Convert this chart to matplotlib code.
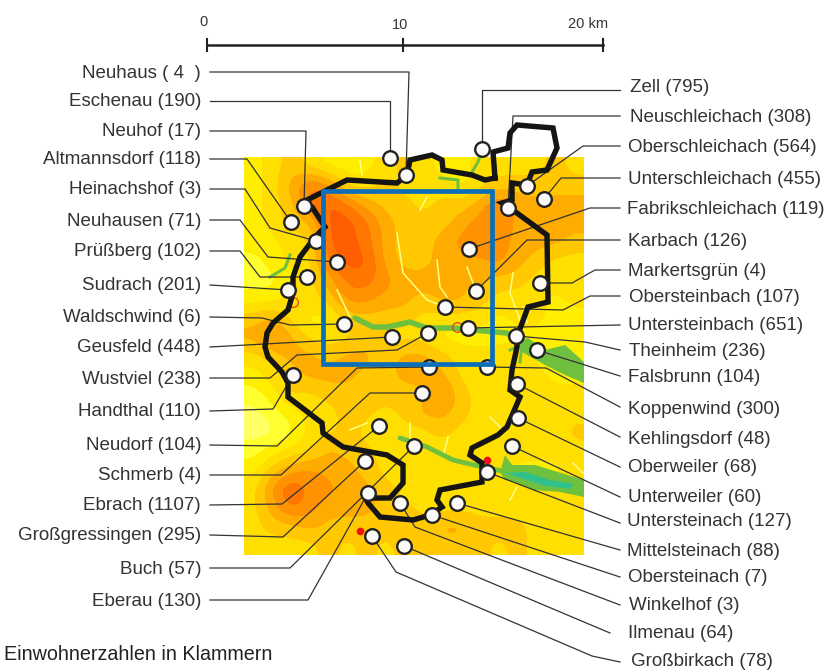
import numpy as np
import matplotlib
matplotlib.use("Agg")
import matplotlib.pyplot as plt
from matplotlib.colors import ListedColormap, BoundaryNorm

# map coordinates are image pixels of the source map
names_left = ["Neuhaus ( 4  )", "Eschenau (190)", "Neuhof (17)", "Altmannsdorf (118)", "Heinachshof (3)",
              "Neuhausen (71)", "Prüßberg (102)", "Sudrach (201)", "Waldschwind (6)", "Geusfeld (448)",
              "Wustviel (238)", "Handthal (110)", "Neudorf (104)", "Schmerb (4)", "Ebrach (1107)",
              "Großgressingen (295)", "Buch (57)", "Eberau (130)"]
label_y_left = [72, 101, 131, 159, 189, 220, 251, 285, 317, 347, 378, 411, 445, 475, 505, 535, 568, 600]
villages_left = [(406, 175), (390, 158), (304, 206), (291, 222), (316, 241), (337, 262), (307, 277), (288, 290),
                 (344, 324), (392, 337), (428, 333), (293, 375), (429, 367), (422, 393), (379, 426),
                 (365, 461), (414, 446), (368, 493)]
bends_left = [[(409, 72)], [(390, 101)], [(306, 131)], [(247, 159)], [(245, 189), (270, 228)],
              [(240, 220), (268, 257)], [(240, 251), (260, 277)], [],
              [(262, 318), (290, 325)], [], [(270, 378), (297, 355), (397, 350)],
              [(273, 409)], [(277, 446), (357, 368)], [(281, 475), (370, 393)], [(282, 504)],
              [(283, 537)], [(290, 568)], [(308, 600)]]

names_right = ["Zell (795)", "Neuschleichach (308)", "Oberschleichach (564)", "Unterschleichach (455)",
               "Fabrikschleichach (119)", "Karbach (126)", "Markertsgrün (4)", "Obersteinbach (107)",
               "Untersteinbach (651)", "Theinheim (236)", "Falsbrunn (104)", "Koppenwind (300)",
               "Kehlingsdorf (48)", "Oberweiler (68)", "Unterweiler (60)", "Untersteinach (127)",
               "Mittelsteinach (88)", "Obersteinach (7)", "Winkelhof (3)", "Ilmenau (64)", "Großbirkach (78)"]
label_x_right = [630, 630, 628, 628, 627, 628, 628, 629, 628, 629, 628, 628, 628, 628, 628, 627, 627, 628, 629, 628, 631]
label_y_right = [87, 116, 147, 178, 208, 240, 270, 297, 324, 350, 377, 408, 438, 467, 497, 521, 550, 577, 605, 633, 660]
leader_y_right = [90, 116, 146, 178, 208, 240, 270, 296, 325, 350, 376, 407, 437, 467, 497, 523, 550, 577, 605, 633, 662]
villages_right = [(482, 149), (508, 208), (527, 186), (544, 199), (469, 249), (476, 291), (540, 283), (445, 307),
                  (468, 328), (516, 336), (537, 350), (487, 367), (517, 384), (518, 418), (512, 446),
                  (487, 472), (457, 503), (432, 515), (400, 503), (404, 546), (372, 536)]
bends_right = [[(482, 90)], [(513, 116)], [(583, 146)], [(561, 178)], [(590, 208)], [(527, 240)],
               [(595, 270), (572, 283)], [(590, 296), (563, 310)], [], [(585, 342)], [], [(546, 368)],
               [], [], [], [], [], [], [(415, 527)], [], [(592, 656), (396, 572)]]
leader_end_right = [620, 620, 620, 620, 620, 620, 620, 620, 620, 620, 620, 620, 620, 620, 620, 620, 620, 620, 620, 610, 620]

boundary = [(495, 178), (493, 152), (508, 148), (510, 133), (517, 125), (553, 128), (557, 148), (547, 170), (532, 172),
            (527, 185), (512, 183), (512, 200), (502, 203), (510, 208), (547, 235), (548, 302), (528, 307), (517, 337),
            (517, 347), (512, 370), (510, 390), (520, 397), (507, 427), (498, 435), (472, 448), (470, 455), (482, 463),
            (482, 482), (440, 490), (437, 500), (442, 507), (430, 515), (413, 520), (380, 517), (368, 503), (365, 497),
            (373, 498), (390, 498), (403, 483), (403, 465), (387, 455), (343, 447), (323, 433), (322, 423), (288, 397),
            (288, 383), (282, 372), (268, 357), (265, 347), (267, 333), (273, 323), (288, 310), (293, 293), (293, 277),
            (300, 257), (315, 237), (325, 227), (312, 207), (303, 202), (347, 180), (397, 183), (407, 175), (410, 160),
            (432, 155), (442, 160), (443, 170), (472, 175), (485, 180), (495, 178)]

terrain_rows = ["234322234322333343",
                "235763343332344444",
                "234787544344575555",
                "234488754445675455",
                "223388754456765554",
                "123378854455565433",
                "112357765554544333",
                "223346655455433323",
                "453224444333323322",
                "565333433322222222",
                "345545545543334222",
                "234555445553333322",
                "124344444464333333",
                "012334434554333333",
                "001334323343334334",
                "123354432333233333",
                "245655433332332223",
                "368665543333333333",
                "357655544333333333",
                "344544444455444333",
                "333343434444434333"]
terrain_colors = ["#ffff66", "#ffff30", "#ffee00", "#ffdf00", "#ffc800", "#ffac00", "#ff9200", "#ff7600", "#ff5e00"]

upper_river = [(355, 318), (373, 327), (387, 327), (410, 322), (427, 328), (453, 328), (473, 330), (507, 333), (517, 340)]
lower_river = [(400, 438), (427, 447), (453, 460), (483, 467), (507, 472)]
upper_valley = [(518, 342), (528, 338), (545, 350), (565, 345), (584, 362), (584, 383), (565, 375), (545, 365), (522, 352)]
lower_valley = [(500, 472), (505, 455), (512, 465), (535, 465), (584, 480), (584, 497), (560, 492), (535, 490), (515, 482), (505, 480)]
lake = [(505, 473), (525, 472), (550, 480), (574, 484), (570, 489), (545, 486), (520, 478)]
side_valleys = [[(482, 150), (478, 162), (472, 172)], [(440, 178), (458, 180), (458, 190)],
                [(270, 277), (285, 268), (290, 255)], [(510, 350), (522, 345), (520, 362)]]
streams = [[(360, 160), (362, 175)], [(427, 197), (420, 210)], [(337, 290), (350, 317)],
           [(397, 233), (403, 273), (427, 300), (453, 310)], [(437, 260), (440, 287), (447, 297)],
           [(467, 267), (473, 283)], [(513, 273), (510, 293), (520, 320)], [(523, 307), (527, 323)],
           [(350, 430), (367, 423)], [(410, 423), (410, 443)], [(448, 437), (443, 457)],
           [(490, 417), (500, 427)], [(510, 500), (517, 487)], [(573, 463), (583, 473)]]
red_dots = [(360, 531), (487, 460)]
red_rings = [(457, 327), (293, 302)]
study_area = [(323, 191), (492, 191), (492, 364), (323, 364), (323, 191)]

scale_km = [0, 10, 20]
scale_x = [207, 403, 603]
scale_labels = ["0", "10", "20 km"]
scale_label_x = [203, 400, 588]
scale_label_y = [22, 25, 24]

plt.rcParams['font.family'] = ['Liberation Sans', 'DejaVu Sans']

fig = plt.figure(figsize=(8.27, 6.71), dpi=100)
ax = fig.add_axes([0, 0, 1, 1])

grid = np.array([[int(c) for c in row] for row in terrain_rows], dtype=float)
cmap = ListedColormap(terrain_colors)
norm = BoundaryNorm(np.arange(-0.5, 9.5), cmap.N)
ax.imshow(grid, extent=(244, 584, 555, 157), cmap=cmap, norm=norm, aspect="auto",
          interpolation="bicubic", interpolation_stage="data", zorder=1)
ax.set_xlim(0, 827)
ax.set_ylim(671, 0)
ax.axis("off")

for s in streams:
    ax.plot(*zip(*s), color="#ffff88", lw=1.1, zorder=2)
for v in side_valleys:
    ax.plot(*zip(*v), color="#70c040", lw=2.2, zorder=2)
ax.plot(*zip(*upper_river), color="#70c040", lw=4, solid_capstyle="round", zorder=3)
ax.plot(*zip(*lower_river), color="#70c040", lw=3.5, solid_capstyle="round", zorder=3)
ax.fill(*zip(*upper_valley), color="#70c040", lw=0, zorder=3)
ax.fill(*zip(*lower_valley), color="#70c040", lw=0, zorder=3)
ax.fill(*zip(*lake), color="#2fc08c", lw=0, zorder=3)

for x, y in red_dots:
    ax.plot(x, y, "o", color="#ee1111", ms=4.5, zorder=4)
for x, y in red_rings:
    ax.plot(x, y, "o", mfc="none", mec="#dd3322", mew=0.8, ms=7, zorder=4)

# leader lines
for y, v, b in zip(label_y_left, villages_left, bends_left):
    pts = [(210, y)] + b + [v]
    ax.plot(*zip(*pts), color="#333333", lw=0.9, zorder=5)
for x_end, y, v, b in zip(leader_end_right, leader_y_right, villages_right, bends_right):
    pts = [(x_end, y)] + b + [v]
    ax.plot(*zip(*pts), color="#333333", lw=0.9, zorder=5)

ax.plot(*zip(*boundary), color="#151515", lw=3.9, solid_joinstyle="miter", zorder=6)

all_villages = villages_left + villages_right
ax.plot(*zip(*all_villages), "o", ls="none", mfc="#fbfaf8", mec="#222222", mew=1.7, ms=10.5, zorder=7)

ax.plot(*zip(*study_area), color="#0a6fb8", lw=3.4, solid_joinstyle="miter", zorder=8)

for y, name in zip(label_y_left, names_left):
    ax.text(201, y + 1, name, ha="right", va="center", fontsize=13.5, color="#333333")
for x, y, name in zip(label_x_right, label_y_right, names_right):
    ax.text(x, y + 1, name, ha="left", va="center", fontsize=13.5, color="#333333")

ax.text(4, 655, "Einwohnerzahlen in Klammern", ha="left", va="center", fontsize=14.2, color="#222222")

# scale bar
ax.plot([scale_x[0], scale_x[-1]], [45, 45], color="#222222", lw=1.8, zorder=5)
for x in scale_x:
    ax.plot([x, x], [39, 51], color="#222222", lw=1.5, zorder=5)
for km, x, y, lab in zip(scale_km, scale_label_x, scale_label_y, scale_labels):
    ax.text(x, y, lab, ha="center", va="center", fontsize=10.5, color="#333333")

fig.savefig("out.png", dpi=100)
